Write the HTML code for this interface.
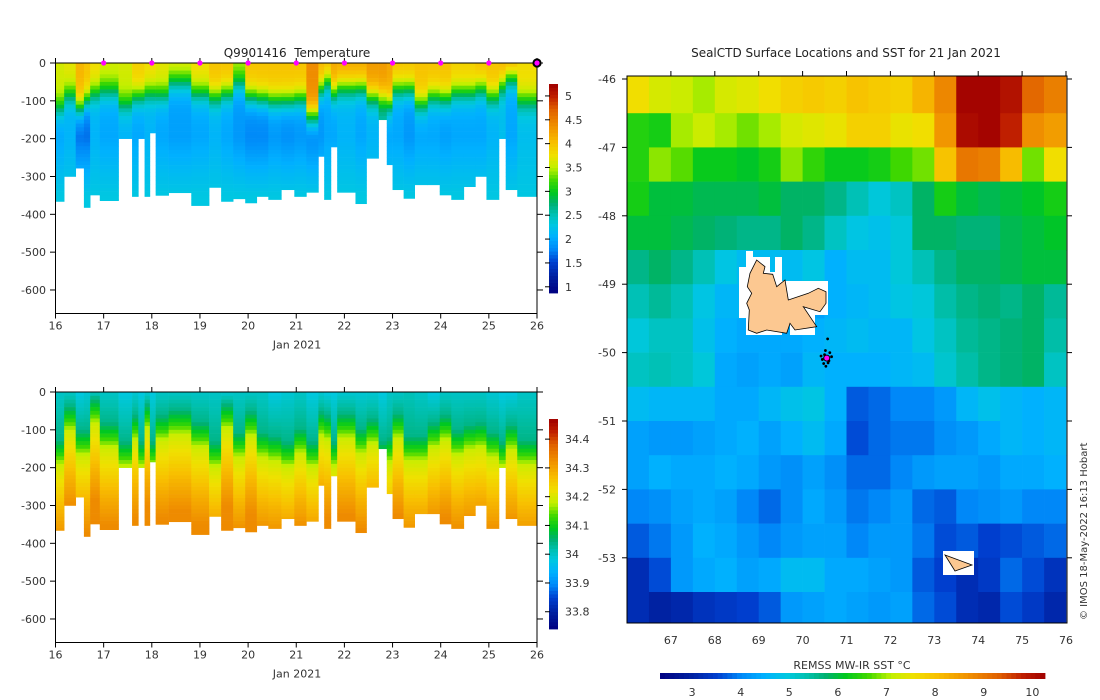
<!DOCTYPE html>
<html><head><meta charset="utf-8"><style>
html,body{margin:0;padding:0;background:#fff;}
svg{display:block;font-family:"DejaVu Sans","Liberation Sans",sans-serif;}
text{fill:#333;font-size:11px;}
</style></head><body>
<svg id="s" width="1100" height="700" viewBox="0 0 1100 700" xmlns="http://www.w3.org/2000/svg">
<defs><clipPath id="mapclip"><rect x="627" y="76" width="440" height="547"/></clipPath></defs>
<g id="temp"></g>
<g id="sal"></g>
<g id="map"></g>
<text x="297" y="57" text-anchor="middle" style="font-size:12px;fill:#222">Q9901416&#160; Temperature</text>
<text x="846" y="57" text-anchor="middle" style="font-size:12px;fill:#222">SealCTD Surface Locations and SST for 21 Jan 2021</text>
<text x="852" y="669" text-anchor="middle">REMSS MW-IR SST °C</text>
<text transform="translate(1087,620) rotate(-90)" style="font-size:10px">© IMOS 18-May-2022 16:13 Hobart</text>
</svg>
<script>
// ---- section data ----
const dayStart=[16.00,16.18,16.42,16.59,16.72,16.92,17.31,17.59,17.72,17.85,17.96,18.08,18.35,18.82,19.19,19.44,19.69,19.94,20.18,20.42,20.69,20.96,21.21,21.46,21.58,21.72,21.85,22.23,22.46,22.71,22.88,23.00,23.23,23.46,23.73,23.98,24.22,24.48,24.72,24.95,25.21,25.35,25.59];
const dayEnd=26.0;
const maxDepth=[366,300,278,382,349,364,200,353,200,353,185,350,343,377,329,366,359,370,353,361,335,353,342,247,361,222,342,372,252,150,269,335,358,322,322,349,361,327,300,361,200,335,353];
const surfTemp=[3.6,3.7,4.1,4.0,3.8,3.6,3.6,3.9,3.9,3.8,3.8,3.7,3.7,3.8,4.0,4.0,3.5,4.0,4.0,4.0,4.0,4.0,4.4,4.1,4.1,4.2,4.2,4.2,4.3,4.3,4.2,4.0,4.0,4.0,4.0,4.0,3.9,3.9,4.0,4.0,4.1,4.2,3.8];
const mixedDepth=[120,85,120,100,80,75,110,90,90,80,80,85,50,80,90,80,55,90,95,100,100,95,140,70,50,80,65,65,90,95,110,70,70,110,90,95,80,80,70,90,60,40,100];
const minTemp=[2.0,2.1,1.7,1.7,2.1,2.0,2.1,2.0,2.0,2.1,2.1,2.0,1.95,2.0,2.1,2.0,1.9,1.8,1.8,1.9,1.85,1.9,1.8,1.9,2.0,2.0,2.1,2.0,2.1,2.5,2.0,2.0,1.9,2.0,2.0,1.95,2.0,2.0,2.0,2.1,2.2,2.0,2.2];
const surfSal=[34.00,34.00,33.98,33.99,34.00,34.00,33.98,33.99,33.98,33.99,33.98,34.00,34.00,34.00,34.00,33.99,34.00,34.00,34.00,33.98,33.99,34.00,33.98,33.99,33.98,33.98,33.99,33.99,33.99,33.98,34.00,34.00,34.01,34.00,33.98,34.00,34.00,34.00,34.00,33.99,33.98,33.98,34.00];
const halDepth=[195,105,170,170,85,150,200,130,200,100,200,130,115,148,200,100,175,120,175,185,200,165,200,120,130,200,125,165,140,200,190,125,185,185,150,130,170,155,150,175,200,155,195];
const tempTicks=[1,1.5,2,2.5,3,3.5,4,4.5,5];
const salTicks=[33.8,33.9,34,34.1,34.2,34.3,34.4];
const depthTicks=[0,-100,-200,-300,-400,-500,-600];
const dayTicks=[16,17,18,19,20,21,22,23,24,25,26];
const markerDays=[17,18,19,20,21,22,23,24,25];
// ---- SST data (0.5 deg cells, rows from -46 southward, cols from 66E) ----
const sstRows=[
[7.6,7.3,7.2,7.0,7.3,7.4,7.6,7.8,7.9,7.8,8.0,7.9,7.8,8.2,8.8,10.2,10.2,10.0,9.2,8.9],
[6.4,6.3,7.0,7.2,7.0,6.8,7.0,7.3,7.4,7.5,7.8,7.8,7.5,7.6,8.6,10.1,10.2,9.8,8.7,8.5],
[6.4,6.9,6.7,6.2,6.2,6.1,6.3,6.9,6.5,6.2,6.2,6.3,6.6,6.8,8.0,9.0,8.9,8.1,6.8,7.6],
[6.3,6.0,6.0,5.9,5.9,5.9,6.0,5.8,5.8,5.6,5.3,5.0,5.2,5.8,6.3,6.0,5.9,6.0,6.1,6.3],
[6.0,6.0,5.9,5.8,5.7,5.6,5.6,5.8,5.6,5.2,4.9,4.8,5.0,5.8,5.8,5.7,5.7,5.9,6.0,6.1],
[5.6,5.8,5.6,5.3,4.9,4.7,4.7,4.7,4.9,4.5,4.7,4.7,5.0,5.3,5.6,5.8,5.8,5.9,6.0,6.0],
[5.3,5.5,5.3,4.9,4.6,4.6,4.6,4.6,4.3,4.5,4.6,4.7,4.9,5.0,5.4,5.6,5.7,5.6,5.8,5.5],
[5.0,5.2,5.2,4.8,4.5,4.4,4.4,4.4,4.5,4.6,4.7,4.6,4.6,4.9,5.2,5.5,5.6,5.7,5.8,5.4],
[5.2,5.3,5.2,5.0,4.4,4.3,4.4,4.3,4.6,4.5,4.5,4.5,4.6,4.7,5.1,5.4,5.6,5.7,5.8,5.2],
[4.7,4.6,4.6,4.6,4.4,4.4,4.6,4.8,4.9,4.5,3.7,3.8,4.0,4.0,4.2,4.6,4.8,4.6,4.5,4.6],
[4.3,4.2,4.2,4.3,4.4,4.5,4.3,4.5,4.7,4.4,3.6,3.8,3.9,3.9,4.1,4.2,4.4,4.6,4.5,4.6],
[4.3,4.5,4.4,4.4,4.5,4.4,4.2,4.1,4.3,4.1,3.8,3.8,4.0,4.2,4.3,4.3,4.2,4.4,4.4,4.5],
[4.0,4.1,4.3,4.4,4.3,4.0,3.8,4.1,4.4,4.2,3.9,4.0,4.2,3.8,3.7,4.0,4.1,4.2,4.0,4.0],
[3.7,3.9,4.2,4.5,4.4,4.2,4.0,4.2,4.3,4.3,4.0,4.2,4.2,3.9,3.6,3.7,3.5,3.6,3.7,3.8],
[3.2,3.6,4.2,4.4,4.5,4.3,4.4,4.7,4.7,4.4,4.4,4.3,4.2,3.7,3.5,3.2,3.4,3.8,3.6,3.3],
[3.2,3.0,3.1,3.3,3.4,3.5,3.7,4.2,4.3,4.4,4.3,4.2,4.3,3.8,3.6,3.2,3.1,3.6,3.4,3.1]];
const lonTicks=[67,68,69,70,71,72,73,74,75,76];
const latTicks=[-46,-47,-48,-49,-50,-51,-52,-53];
const sstTicks=[3,4,5,6,7,8,9,10];
const sealLon=[70.55,70.50,70.62,70.45,70.58,70.52,70.66,70.48,70.57,70.60,70.42,70.53];
const sealLat=[-50.08,-50.03,-50.00,-50.10,-50.15,-49.97,-50.06,-50.16,-49.80,-50.12,-50.05,-50.20];

const NS='http://www.w3.org/2000/svg';
const svg=document.getElementById('s');
function el(tag,attrs,parent){const e=document.createElementNS(NS,tag);for(const k in attrs)e.setAttribute(k,attrs[k]);(parent||svg).appendChild(e);return e;}
const stops=[[0,[0,0,128]],[0.08,[0,32,160]],[0.15,[0,64,208]],[0.21,[0,136,248]],[0.27,[0,176,255]],[0.33,[0,200,224]],[0.38,[0,192,176]],[0.43,[0,176,112]],[0.48,[0,200,32]],[0.54,[64,216,0]],[0.6,[192,240,0]],[0.66,[240,224,0]],[0.72,[248,192,0]],[0.8,[240,144,0]],[0.88,[224,96,0]],[0.94,[192,32,0]],[1,[160,0,0]]];
function cmap(t){t=Math.max(0,Math.min(1,t));for(let i=1;i<stops.length;i++){if(t<=stops[i][0]){const a=stops[i-1],b=stops[i];const f=(t-a[0])/(b[0]-a[0]);const c=a[1].map((v,k)=>Math.round(v+(b[1][k]-v)*f));return 'rgb('+c.join(',')+')';}}return 'rgb(160,0,0)';}
const xDay=d=>55.5+(d-16)*48.15;

function tempAt(i,z){const T0=surfTemp[i],Tm=minTemp[i];let v=Tm+(T0-Tm)/(1+Math.exp((z-mixedDepth[i])/18));if(z>200)v+=Math.min(1,(z-200)/150)*Math.max(0,2.3-Tm);return v;}
function salAt(i,z){const Y=halDepth[i];const pts=[[0,surfSal[i]],[Y-70,34.04],[Y-30,34.12],[Y,34.19],[Y+120,34.28],[Y+200,34.33],[1000,34.34]];for(let k=1;k<pts.length;k++){if(z<=pts[k][0]){const a=pts[k-1],b=pts[k];const f=Math.max(0,(z-a[0])/(b[0]-a[0]));return a[1]+(b[1]-a[1])*f;}}return 34.34;}

function section(g,y0,valFn,vmin,vmax,ticks,cbTop,cbBot,cbName,withMarkers){
  const yD=z=>y0+z*0.3783;
  const top=y0, bot=y0+250.5;
  for(let i=0;i<dayStart.length;i++){
    const x1=xDay(dayStart[i]),x2=xDay(i+1<dayStart.length?dayStart[i+1]:dayEnd);
    for(let z=0;z<maxDepth[i];z+=10){
      const z2=Math.min(z+10,maxDepth[i]);
      const r=el('rect',{x:x1,y:yD(z),width:x2-x1+0.3,height:yD(z2)-yD(z)+0.3,fill:cmap((valFn(i,z+5)-vmin)/(vmax-vmin))},g);
      
      
    }
  }
  const fr=el('rect',{x:55.5,y:top,width:481.5,height:bot-top,fill:'none',stroke:'#000','stroke-width':1},g);
  
  depthTicks.forEach(d=>{const y=yD(-d);
    el('line',{x1:50,x2:55.5,y1:y,y2:y,stroke:'#000'},g);el('line',{x1:537,x2:543,y1:y,y2:y,stroke:'#000'},g);
    const t=el('text',{x:46,y:y+4,'text-anchor':'end'},g);t.textContent=d;
    });
  dayTicks.forEach(d=>{const x=xDay(d);
    el('line',{x1:x,x2:x,y1:bot,y2:bot+5,stroke:'#000'},g);el('line',{x1:x,x2:x,y1:top-5,y2:top,stroke:'#000'},g);
    const t=el('text',{x:x,y:bot+16,'text-anchor':'middle'},g);t.textContent=d;
    });
  const xl=el('text',{x:297,y:bot+35,'text-anchor':'middle'},g);xl.textContent='Jan 2021';
  
  const n=60;
  for(let k=0;k<n;k++){const yA=cbBot-(k+1)*(cbBot-cbTop)/n;
    const r=el('rect',{x:549,y:yA,width:9,height:(cbBot-cbTop)/n+0.4,fill:cmap((k+0.5)/n)},g);
    }
  ticks.forEach(v=>{const y=cbBot-(v-vmin)/(vmax-vmin)*(cbBot-cbTop);
    el('line',{x1:545,x2:550,y1:y,y2:y,stroke:'#000'},g);
    const t=el('text',{x:565,y:y+4},g);t.textContent=v;
    });
  if(withMarkers){
    markerDays.forEach(d=>{const c=el('circle',{cx:xDay(d),cy:top,r:2.6,fill:'#ff00ff'},g);
      });
    const c=el('circle',{cx:xDay(26),cy:top,r:3.6,fill:'#ff00ff',stroke:'#000','stroke-width':2},g);
    
  }
}
section(document.getElementById('temp'),63,tempAt,0.87,5.25,tempTicks,84,293,'temperature-colorbar',true);
section(document.getElementById('sal'),392,salAt,33.74,34.47,salTicks,419,629,'salinity-colorbar',false);

// ---- map ----
const mg=document.getElementById('map');
const xLon=l=>627+(l-66)*43.9;
const yLat=a=>79+(-46-a)*68.4;
const cg=el('g',{'clip-path':'url(#mapclip)'},mg);
sstRows.forEach((row,j)=>{row.forEach((v,i)=>{
  const la=-46-0.5*j, y1=j===0?70:yLat(la), y2=yLat(la-0.5);
  const r=el('rect',{x:xLon(66+0.5*i),y:y1,width:22.3,height:y2-y1+0.3,fill:cmap((v-2.34)/(10.26-2.34))},cg);
  });});
const halo=el('polygon',{points:'739,267 746,267 746,251 753,251 753,257 770,257 770,272 775,272 775,257 782,257 782,281 828,281 828,315 815,315 815,335 790,335 790,325 782,325 782,335 746,335 746,318 739,318',fill:'#fff'},cg);

const kerg=el('polygon',{points:'756.7,260 765,266.7 763.3,273.3 772.7,274.3 776.7,286.7 785,280 788.3,300 808.3,293.3 818.3,288.3 826,291.7 826,303.3 820,311.7 803.3,306.7 816.7,326.7 795,330 790,323.3 786.7,333.3 766.7,330 756.7,333.3 748.3,330 749.3,310 746.7,303.3 751.7,293.3 747.3,286.7 750,273.3 753.3,266.7',fill:'#fcc891',stroke:'#000','stroke-width':0.8},cg);

const hh=el('rect',{x:943,y:551,width:31,height:24,fill:'#fff'},cg);

const heard=el('polygon',{points:'945,555 972,565 955,571',fill:'#fcc891',stroke:'#000','stroke-width':0.8},cg);

sealLon.forEach((l,k)=>{const c=el('circle',{cx:xLon(l),cy:yLat(sealLat[k]),r:1.4,fill:'#000'},cg);
  });
const cur=el('circle',{cx:xLon(70.55),cy:yLat(-50.08),r:3,fill:'#ff00ff',stroke:'#000','stroke-width':1},cg);

const mf=el('rect',{x:627,y:76,width:440,height:547,fill:'none',stroke:'#000'},mg);

lonTicks.forEach(l=>{const x=xLon(l);el('line',{x1:x,x2:x,y1:71,y2:76,stroke:'#000'},mg);
  const t=el('text',{x:x,y:644,'text-anchor':'middle'},mg);t.textContent=l;
  });
latTicks.forEach(a=>{const y=yLat(a);el('line',{x1:622,x2:627,y1:y,y2:y,stroke:'#000'},mg);el('line',{x1:1067,x2:1072,y1:y,y2:y,stroke:'#000'},mg);
  const t=el('text',{x:616,y:y+4,'text-anchor':'end'},mg);t.textContent=a;
  });
const xs=v=>660+(v-2.34)/(10.26-2.34)*385;
for(let k=0;k<80;k++){const r=el('rect',{x:660+k*385/80,y:673,width:385/80+0.4,height:6,fill:cmap((k+0.5)/80)},mg);
  }
sstTicks.forEach(v=>{const t=el('text',{x:xs(v),y:696,'text-anchor':'middle'},mg);t.textContent=v;
  });
</script>
</body></html>
